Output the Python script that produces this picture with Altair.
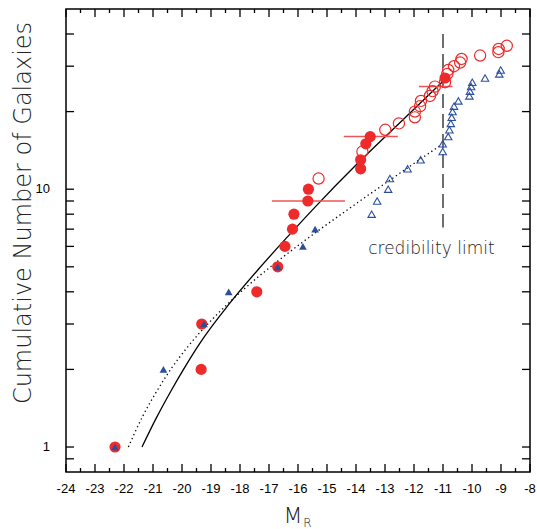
import math
import altair as alt
import pandas as pd

# ---------------- data ----------------
red_mag = [-22.31, -19.34, -19.32, -17.42, -16.70, -16.45, -16.19, -16.14, -15.66, -15.64,
           -15.29, -13.84, -13.84, -13.78, -13.66, -13.51, -12.99, -12.52, -11.97, -11.97,
           -11.79, -11.76, -11.45, -11.36, -11.28, -10.93, -10.93, -10.85, -10.82, -10.62,
           -10.41, -10.36, -9.72, -9.09, -9.08, -8.80]
red_n = list(range(1, 37))
red_filled = [True] * 10 + [False, True, True, False, True, True] + [False] * 10 + [True] + [False] * 9

blue_mag = [-22.31, -20.64, -19.24, -18.39, -16.70, -15.83, -15.41, -13.46, -13.27, -12.89,
            -12.83, -12.22, -11.77, -11.01, -11.01, -10.82, -10.78, -10.73, -10.70, -10.67,
            -10.62, -10.47, -10.09, -10.07, -10.03, -9.99, -9.55, -9.06, -9.01]
blue_n = list(range(1, 30))
blue_filled = [True] * 7 + [False] * 22

solid_mag = [-21.38, -20.88, -20.38, -19.88, -19.38, -18.38, -17.38, -16.38, -15.38,
             -13.88, -12.38, -10.93]
solid_n = [1.00, 1.30, 1.65, 2.06, 2.53, 3.58, 4.87, 6.50, 8.60, 12.8, 18.6, 26.7]

dotted_mag = [-21.85, -21.35, -20.85, -20.35, -19.85, -18.85, -17.85, -16.85, -15.85,
              -14.35, -12.85, -11.03]
dotted_n = [1.00, 1.32, 1.66, 2.03, 2.41, 3.22, 4.11, 5.10, 6.22, 8.24, 10.81, 14.95]

err_n = [9, 16, 25]
err_lo = [-16.90, -14.42, -11.83]
err_hi = [-14.38, -12.56, -10.67]

limit_mag = [-11.0]
limit_top = [40.0]
limit_bottom = [7.1]
limit_text = ["credibility limit"]
limit_text_mag = [-11.40]
limit_text_n = [5.63]

x_major = list(range(-24, -7))
x_minor = [v + 0.5 for v in range(-24, -8)]
x_tick_labels = [str(v) for v in x_major]
y_labels = [1, 10]
y_tick_labels = ["1", "10"]
y_ticks = [0.9, 1, 2, 3, 4, 5, 6, 7, 8, 9, 10, 20, 30, 40]
x_title = "M"
x_title_sub = "R"
y_title = "Cumulative Number of Galaxies"

W, H = 464, 463
X_DOMAIN = [-24, -8]
Y_DOMAIN = [0.8, 50]

# ---------------- tables ----------------
red = pd.DataFrame({"mag": red_mag, "n": red_n, "filled": red_filled})
blue = pd.DataFrame({"mag": blue_mag, "n": blue_n, "filled": blue_filled})
solid = pd.DataFrame({"mag": solid_mag, "n": solid_n})
dotted = pd.DataFrame({"mag": dotted_mag, "n": dotted_n})
errs = pd.DataFrame({"n": err_n, "lo": err_lo, "hi": err_hi})
limit = pd.DataFrame({"mag": limit_mag, "top": limit_top, "bottom": limit_bottom})
ltext = pd.DataFrame({"mag": limit_text_mag, "n": limit_text_n, "t": limit_text})
xlab = pd.DataFrame({"v": x_major, "t": x_tick_labels})
yl = pd.DataFrame({"v": y_labels, "t": y_tick_labels})

# frame ticks as rule segments in data units (tick length given in pixels, converted
# through the plot's domains so that they point inward from the frame)
x_per_px = (X_DOMAIN[1] - X_DOMAIN[0]) / W
ylog_per_px = math.log10(Y_DOMAIN[1] / Y_DOMAIN[0]) / H
rows = []
for vals, length in ((x_major, 8), (x_minor, 4)):
    f = 10 ** (length * ylog_per_px)
    for v in vals:
        rows.append({"x1": v, "x2": v, "y1": Y_DOMAIN[0], "y2": Y_DOMAIN[0] * f})
        rows.append({"x1": v, "x2": v, "y1": Y_DOMAIN[1], "y2": Y_DOMAIN[1] / f})
for v in y_ticks:
    rows.append({"x1": X_DOMAIN[0], "x2": X_DOMAIN[0] + 8 * x_per_px, "y1": v, "y2": v})
    rows.append({"x1": X_DOMAIN[1], "x2": X_DOMAIN[1] - 8 * x_per_px, "y1": v, "y2": v})
tick_df = pd.DataFrame(rows)

RED = "#ee2a2a"
BLUE = "#2b4f9e"
xs = alt.Scale(domain=X_DOMAIN, nice=False, zero=False)
ys = alt.Scale(type="log", domain=Y_DOMAIN, nice=False)

TITLE_FONT = "DejaVu Sans"
LABEL_FONT = "Liberation Sans"

frame_ticks = alt.Chart(tick_df).mark_rule(color="black", strokeWidth=1.3).encode(
    x=alt.X("x1:Q", scale=xs, axis=None), x2="x2:Q",
    y=alt.Y("y1:Q", scale=ys, axis=None), y2="y2:Q",
)

x_labels = alt.Chart(xlab).mark_text(font=LABEL_FONT, fontSize=13, color="black",
                                     align="center", baseline="top").encode(
    x=alt.X("v:Q", scale=xs, axis=None), y=alt.value(H + 11), text="t:N")

y_label_marks = alt.Chart(yl).mark_text(font=LABEL_FONT, fontSize=13, color="black",
                                        align="right", baseline="middle").encode(
    y=alt.Y("v:Q", scale=ys, axis=None), x=alt.value(-16), text="t:N")

x_title_mark = alt.Chart(pd.DataFrame({"t": [x_title]})).mark_text(
    font=TITLE_FONT, fontWeight=200, fontSize=22, color="#222222", align="center",
    baseline="alphabetic").encode(x=alt.value(227), y=alt.value(H + 51), text="t:N")

sub_r = alt.Chart(pd.DataFrame({"t": [x_title_sub]})).mark_text(
    font=TITLE_FONT, fontWeight=200, fontSize=12, color="#222222", align="center",
    baseline="alphabetic").encode(x=alt.value(241.5), y=alt.value(H + 54.5), text="t:N")

y_title_mark = alt.Chart(pd.DataFrame({"t": [y_title]})).mark_text(
    font=TITLE_FONT, fontWeight=200, fontSize=24, color="#222222", align="center",
    baseline="alphabetic", angle=270).encode(x=alt.value(-35), y=alt.value(204), text="t:N")

limit_rule = alt.Chart(limit).mark_rule(color="#6e6e6e", strokeWidth=2, strokeDash=[14, 6]).encode(
    x=alt.X("mag:Q", scale=xs, axis=None),
    y=alt.Y("top:Q", scale=ys, axis=None),
    y2="bottom:Q",
)

solid_line = alt.Chart(solid).mark_line(color="black", strokeWidth=1.3, interpolate="monotone").encode(
    x=alt.X("mag:Q", scale=xs, axis=None),
    y=alt.Y("n:Q", scale=ys, axis=None),
)

dotted_line = alt.Chart(dotted).mark_line(color="black", strokeWidth=1.3, strokeDash=[1.3, 3],
                                          interpolate="monotone").encode(
    x=alt.X("mag:Q", scale=xs, axis=None),
    y=alt.Y("n:Q", scale=ys, axis=None),
)

err_bars = alt.Chart(errs).mark_rule(color="#f05555", strokeWidth=1.5).encode(
    x=alt.X("lo:Q", scale=xs, axis=None),
    x2="hi:Q",
    y=alt.Y("n:Q", scale=ys, axis=None),
)

red_f = alt.Chart(red[red.filled]).mark_point(shape="circle", filled=True, color=RED, opacity=1,
                                              size=125).encode(
    x=alt.X("mag:Q", scale=xs, axis=None),
    y=alt.Y("n:Q", scale=ys, axis=None),
)

red_o = alt.Chart(red[~red.filled]).mark_point(shape="circle", filled=False, color=RED, opacity=1,
                                               size=125, strokeWidth=1.2).encode(
    x=alt.X("mag:Q", scale=xs, axis=None),
    y=alt.Y("n:Q", scale=ys, axis=None),
)

blue_f = alt.Chart(blue[blue.filled]).mark_point(shape="triangle-up", filled=True, color=BLUE,
                                                 opacity=1, size=60).encode(
    x=alt.X("mag:Q", scale=xs, axis=None),
    y=alt.Y("n:Q", scale=ys, axis=None),
)

blue_o = alt.Chart(blue[~blue.filled]).mark_point(shape="triangle-up", filled=False, color=BLUE,
                                                  opacity=1, size=55, strokeWidth=1.1).encode(
    x=alt.X("mag:Q", scale=xs, axis=None),
    y=alt.Y("n:Q", scale=ys, axis=None),
)

label = alt.Chart(ltext).mark_text(font=TITLE_FONT, fontWeight=200, fontSize=17, color="#222222",
                                   align="center", baseline="alphabetic").encode(
    x=alt.X("mag:Q", scale=xs, axis=None),
    y=alt.Y("n:Q", scale=ys, axis=None),
    text="t:N",
)

chart = alt.layer(
    frame_ticks, limit_rule, solid_line, dotted_line, err_bars, red_f, red_o, blue_f, blue_o,
    label, x_labels, y_label_marks, x_title_mark, sub_r, y_title_mark
).properties(
    width=W, height=H,
    padding={"left": 66, "top": 9, "right": 7, "bottom": 57},
    autosize=alt.AutoSizeParams(type="none"),
    background="white",
).configure_view(stroke="black", strokeWidth=1.5)

chart.save("out.html", embed_options={"renderer": "svg", "actions": False})
